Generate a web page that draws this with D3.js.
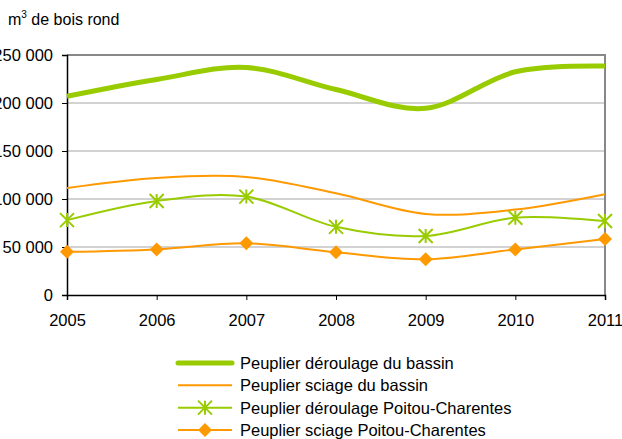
<!DOCTYPE html>
<html>
<head>
<meta charset="utf-8">
<script src="https://cdn.jsdelivr.net/npm/d3@7"></script>
<style>
  body { margin: 0; background: #fff; }
  svg { font-family: "Liberation Sans", Arial, sans-serif; }
</style>
</head>
<body>
<svg id="chart" width="622" height="439"></svg>
<script>
// years on the x axis
const years = [2005, 2006, 2007, 2008, 2009, 2010, 2011];
const yTicks = [0, 50000, 100000, 150000, 200000, 250000];

// series values (m3 de bois rond)
const deroulageBassin = [207000, 224500, 237000, 214000, 194500, 232500, 238500];
const sciageBassin = [111500, 122000, 123000, 106000, 84500, 89000, 105000];
const deroulagePC = [78000, 98000, 102500, 71000, 61500, 80500, 77000];
const sciagePC = [45000, 47500, 53800, 44500, 37200, 47500, 58300];

const seriesNames = [
  "Peuplier déroulage du bassin",
  "Peuplier sciage du bassin",
  "Peuplier déroulage Poitou-Charentes",
  "Peuplier sciage Poitou-Charentes"
];

const green = "#99cc00";
const orange = "#ff9900";

const series = [
  { name: seriesNames[0], values: deroulageBassin, color: green, width: 5, marker: null },
  { name: seriesNames[1], values: sciageBassin, color: orange, width: 2, marker: null },
  { name: seriesNames[2], values: deroulagePC, color: green, width: 2, marker: "star" },
  { name: seriesNames[3], values: sciagePC, color: orange, width: 2, marker: "diamond" }
];

const margin = { top: 55, right: 17, bottom: 144, left: 67 };
const width = 622, height = 439;
const fontSize = 16.5;

const svg = d3.select("#chart");

const x = d3.scaleLinear()
  .domain([2005, 2011])
  .range([margin.left, width - margin.right]);

const y = d3.scaleLinear()
  .domain([0, 250000])
  .range([height - margin.bottom, margin.top]);

const fmt = d => d3.format(",")(d).replace(/,/g, " ");

// gridlines
svg.append("g")
  .selectAll("line")
  .data(yTicks.filter(d => d > 0 && d < 250000))
  .join("line")
  .attr("x1", x(2005)).attr("x2", x(2011))
  .attr("y1", d => y(d)).attr("y2", d => y(d))
  .attr("stroke", "#a6a6a6")
  .attr("stroke-width", 1);

// top & right border of plot area
svg.append("path")
  .attr("d", `M${x(2005)},${y(250000)}H${x(2011)}V${y(0)}`)
  .attr("fill", "none")
  .attr("stroke", "#888")
  .attr("stroke-width", 2);

// y axis
const yAxis = svg.append("g")
  .attr("transform", `translate(${margin.left},0)`)
  .call(d3.axisLeft(y).tickValues(yTicks).tickFormat(fmt).tickSize(5).tickPadding(9));
yAxis.select(".domain").attr("stroke", "#000").attr("stroke-width", 1.5);
yAxis.selectAll("line").attr("stroke", "#000");
yAxis.selectAll("text").attr("font-size", fontSize).attr("fill", "#000");

// x axis
const xAxis = svg.append("g")
  .attr("transform", `translate(0,${y(0)})`)
  .call(d3.axisBottom(x).tickValues(years).tickFormat(d3.format("d")).tickSize(5).tickPadding(14));
xAxis.select(".domain").attr("stroke", "#000").attr("stroke-width", 1.5);
xAxis.selectAll("line").attr("stroke", "#000");
xAxis.selectAll("text").attr("font-size", fontSize).attr("fill", "#000");

// unit label
const unit = svg.append("text")
  .attr("x", 8).attr("y", 25)
  .attr("font-size", 16)
  .attr("fill", "#000");
unit.append("tspan").text("m");
unit.append("tspan").attr("dy", -7).attr("font-size", 10).text("3");
unit.append("tspan").attr("dy", 7).text(" de bois rond");

const line = d3.line()
  .x((d, i) => x(years[i]))
  .y(d => y(d))
  .curve(d3.curveCardinal.tension(0));

function drawMarker(g, type, cx, cy, color) {
  if (type === "star") {
    const r = 7;
    g.append("path")
      .attr("d", `M${cx - r},${cy - r}L${cx + r},${cy + r}M${cx - r},${cy + r}L${cx + r},${cy - r}M${cx},${cy - r}V${cy + r}`)
      .attr("stroke", color).attr("stroke-width", 2).attr("fill", "none");
  } else if (type === "diamond") {
    const r = 7;
    g.append("path")
      .attr("d", `M${cx},${cy - r}L${cx + r},${cy}L${cx},${cy + r}L${cx - r},${cy}Z`)
      .attr("fill", color);
  }
}

const plot = svg.append("g");
series.forEach(s => {
  plot.append("path")
    .attr("d", line(s.values))
    .attr("fill", "none")
    .attr("stroke", s.color)
    .attr("stroke-width", s.width);
  if (s.marker) {
    s.values.forEach((v, i) => drawMarker(plot, s.marker, x(years[i]), y(v), s.color));
  }
});

// legend
const legend = svg.append("g");
const legendY = d3.scaleLinear().domain([0, 3]).range([363, 430]);
series.forEach((s, i) => {
  const ly = legendY(i);
  legend.append("line")
    .attr("x1", 178).attr("x2", 232)
    .attr("y1", ly).attr("y2", ly)
    .attr("stroke", s.color)
    .attr("stroke-width", s.width)
    .attr("stroke-linecap", s.width > 3 ? "round" : "butt");
  if (s.marker) drawMarker(legend, s.marker, 205, ly, s.color);
  legend.append("text")
    .attr("x", 240).attr("y", ly + 6)
    .attr("font-size", fontSize)
    .attr("fill", "#000")
    .text(s.name);
});
</script>
</body>
</html>
